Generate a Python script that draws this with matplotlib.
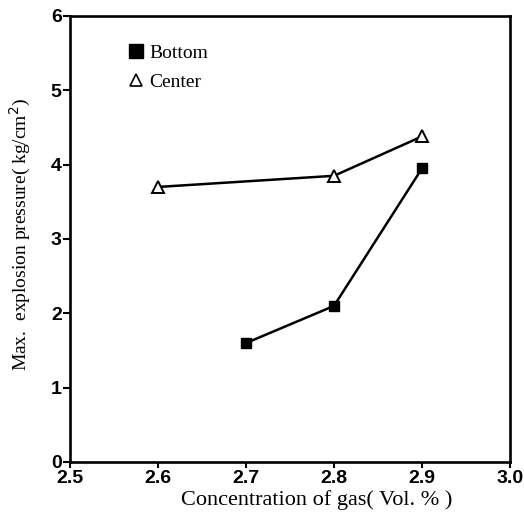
import matplotlib.pyplot as plt
from matplotlib.lines import Line2D

# data
conc_bottom = [2.7, 2.8, 2.9]
pres_bottom = [1.6, 2.1, 3.95]
conc_center = [2.6, 2.8, 2.9]
pres_center = [3.7, 3.85, 4.38]
xticks = [2.5, 2.6, 2.7, 2.8, 2.9, 3.0]
yticks = [0, 1, 2, 3, 4, 5, 6]

fig = plt.figure(figsize=(5.24, 5.16), dpi=100)
ax = fig.add_axes([0.1336, 0.1047, 0.8397, 0.8643])

ax.plot(conc_center, pres_center, color='black', lw=1.8, marker='^',
        markerfacecolor='white', markeredgecolor='black', markersize=8, mew=1.4)
ax.plot(conc_bottom, pres_bottom, color='black', lw=1.8, marker='s',
        markerfacecolor='black', markersize=7.5)

ax.set_xlim(2.5, 3.0)
ax.set_ylim(0, 6)
ax.set_xticks(xticks)
ax.set_yticks(yticks)
ax.set_xticklabels(['%.1f' % v for v in xticks], fontsize=14, fontweight='bold',
                   family='Liberation Sans')
ax.set_yticklabels([str(v) for v in yticks], fontsize=14, fontweight='bold',
                   family='Liberation Sans')
ax.tick_params(axis='x', direction='out', length=4, width=1.5, pad=2)
ax.tick_params(axis='y', direction='out', length=5, width=1.5, pad=1)
for s in ax.spines.values():
    s.set_linewidth(1.9)

ax.set_xlabel('Concentration of gas( Vol. % )', family='Liberation Serif', fontsize=16)
ax.xaxis.set_label_coords(0.56, -0.063)
ax.set_ylabel('Max.  explosion pressure( kg/cm$^2$)', family='Liberation Serif', fontsize=14)
ax.yaxis.set_label_coords(-0.085, 0.51)

handles = [Line2D([], [], ls='none', marker='s', color='black', markersize=10),
           Line2D([], [], ls='none', marker='^', markerfacecolor='white',
                  markeredgecolor='black', markersize=9, mew=1.2)]
ax.legend(handles, ['Bottom', 'Center'], loc='upper left', bbox_to_anchor=(0.09, 0.975),
          frameon=False, prop={'family': 'Liberation Serif', 'size': 14},
          handlelength=0.9, handletextpad=0.25, labelspacing=0.55)

fig.savefig('out.png', dpi=100)
